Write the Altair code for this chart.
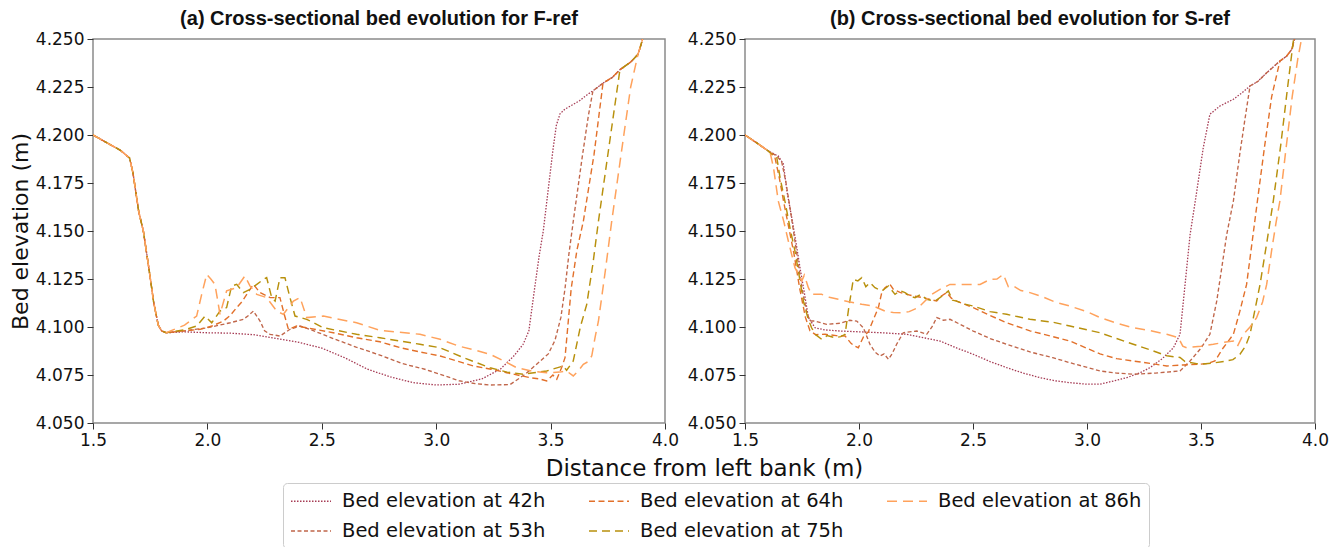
import altair as alt
import pandas as pd

SERIES = ["Bed elevation at 42h", "Bed elevation at 53h", "Bed elevation at 64h",
          "Bed elevation at 75h", "Bed elevation at 86h"]
COLORS = ["#a63c55", "#c0664a", "#e2702a", "#b8900c", "#ffa25c"]
DASHES = [[1.5, 1.5], [4, 2.5], [6, 3.5], [8, 5], [10, 6]]
WIDTHS = [1.3, 1.5, 2.1, 2.7, 3.5]

X_TICKS = [1.5, 2.0, 2.5, 3.0, 3.5, 4.0]
Y_TICKS = [4.050, 4.075, 4.100, 4.125, 4.150, 4.175, 4.200, 4.225, 4.250]

# ---------------- Panel (a): F-ref ----------------
bank_a_x = [1.50, 1.56, 1.62, 1.66, 1.675, 1.70, 1.72, 1.745, 1.765, 1.785, 1.80, 1.82]
bank_a_y = [4.200, 4.196, 4.192, 4.188, 4.180, 4.160, 4.150, 4.130, 4.113, 4.101, 4.098, 4.097]
top_a_x = [3.729, 3.77, 3.803, 3.85, 3.882, 3.90, 3.915]
top_a_y = [4.227, 4.230, 4.234, 4.238, 4.242, 4.249, 4.258]

a42_x = [1.9, 2.0, 2.1, 2.2, 2.3, 2.4, 2.5, 2.6, 2.7, 2.8, 2.9, 3.0, 3.1, 3.2, 3.28, 3.34, 3.38,
         3.405, 3.43, 3.45, 3.468, 3.49, 3.51, 3.525, 3.541, 3.563, 3.60, 3.628, 3.66, 3.685]
a42_y = [4.0975, 4.097, 4.0968, 4.096, 4.094, 4.092, 4.089, 4.084, 4.078, 4.074, 4.071, 4.0698,
         4.0702, 4.073, 4.078, 4.085, 4.091, 4.098, 4.120, 4.137, 4.150, 4.172, 4.192, 4.205,
         4.211, 4.2135, 4.216, 4.218, 4.221, 4.223]
a53_x = [1.9, 2.0, 2.1, 2.157, 2.18, 2.201, 2.23, 2.25, 2.274, 2.317, 2.361, 2.405, 2.448, 2.55,
         2.65, 2.754, 2.85, 2.95, 3.017, 3.1, 3.17, 3.235, 3.323, 3.39, 3.439, 3.49, 3.519, 3.545,
         3.563, 3.58, 3.599, 3.64, 3.665, 3.685]
a53_y = [4.098, 4.0996, 4.1022, 4.104, 4.106, 4.1083, 4.1031, 4.098, 4.0962, 4.0953, 4.0988,
         4.1005, 4.0988, 4.094, 4.0895, 4.0854, 4.081, 4.078, 4.0754, 4.072, 4.0705, 4.0698,
         4.070, 4.0755, 4.0806, 4.086, 4.093, 4.105, 4.120, 4.138, 4.155, 4.190, 4.210, 4.223]
a64_x = [1.9, 1.968, 2.02, 2.07, 2.1, 2.128, 2.15, 2.172, 2.201, 2.23, 2.274, 2.317, 2.335, 2.354,
         2.39, 2.434, 2.55, 2.652, 2.754, 2.85, 2.93, 3.017, 3.1, 3.162, 3.24, 3.308, 3.41, 3.45,
         3.483, 3.51, 3.527, 3.548, 3.563, 3.575, 3.59, 3.615, 3.643, 3.69]
a64_y = [4.098, 4.0988, 4.1005, 4.1031, 4.106, 4.1101, 4.113, 4.117, 4.1222, 4.1179, 4.1153,
         4.1153, 4.107, 4.0988, 4.1005, 4.0996, 4.097, 4.0944, 4.0923, 4.089, 4.087, 4.0849,
         4.082, 4.0797, 4.078, 4.0762, 4.0736, 4.073, 4.0719, 4.075, 4.0728, 4.0788, 4.084,
         4.100, 4.120, 4.140, 4.155, 4.190]
a75_x = [1.9, 1.953, 1.99, 2.019, 2.055, 2.084, 2.106, 2.128, 2.157, 2.186, 2.216, 2.245, 2.259,
         2.281, 2.296, 2.317, 2.339, 2.361, 2.383, 2.434, 2.507, 2.652, 2.754, 2.929, 3.017, 3.12,
         3.235, 3.31, 3.381, 3.483, 3.555, 3.57, 3.599, 3.63, 3.658, 3.685, 3.709, 3.76]
a75_y = [4.0985, 4.1005, 4.1057, 4.1022, 4.1083, 4.1101, 4.1214, 4.1222, 4.1179, 4.1196, 4.1222,
         4.1248, 4.1257, 4.1153, 4.1135, 4.1257, 4.1257, 4.1153, 4.1057, 4.104, 4.0996, 4.0962,
         4.0944, 4.091, 4.0892, 4.084, 4.0788, 4.0765, 4.0754, 4.0771, 4.0797, 4.0775, 4.0823,
         4.100, 4.1118, 4.133, 4.155, 4.198]
a86_x = [1.9, 1.953, 1.975, 1.997, 2.015, 2.033, 2.055, 2.084, 2.128, 2.164, 2.186, 2.216, 2.259,
         2.303, 2.332, 2.376, 2.405, 2.434, 2.507, 2.652, 2.754, 2.929, 3.017, 3.1, 3.17, 3.235,
         3.3, 3.352, 3.42, 3.483, 3.54, 3.57, 3.599, 3.62, 3.643, 3.665, 3.68, 3.695, 3.709, 3.74,
         3.767, 3.82, 3.85]
a86_y = [4.101, 4.1057, 4.117, 4.1274, 4.125, 4.1222, 4.1066, 4.1188, 4.1205, 4.1266, 4.1214,
         4.117, 4.1153, 4.1083, 4.1066, 4.1135, 4.1153, 4.1049, 4.1057, 4.1022, 4.0983, 4.0962,
         4.0936, 4.090, 4.088, 4.0858, 4.082, 4.0788, 4.077, 4.0762, 4.0765, 4.0771, 4.0745,
         4.077, 4.0806, 4.082, 4.085, 4.095, 4.103, 4.130, 4.155, 4.200, 4.225]

# ---------------- Panel (b): S-ref ----------------
bank_b_x = [1.50, 1.55, 1.602]
bank_b_y = [4.200, 4.196, 4.1917]
top_b_x = [3.715, 3.75, 3.788, 3.846, 3.875, 3.898, 3.912, 3.92]
top_b_y = [4.2255, 4.228, 4.2324, 4.2385, 4.241, 4.2446, 4.2507, 4.258]

b42_x = [1.646, 1.668, 1.685, 1.705, 1.725, 1.741, 1.76, 1.778, 1.807, 1.85, 1.917, 2.0, 2.1,
         2.209, 2.3, 2.355, 2.43, 2.501, 2.575, 2.648, 2.72, 2.794, 2.86, 2.925, 3.0, 3.057, 3.12,
         3.174, 3.23, 3.276, 3.33, 3.379, 3.408, 3.43, 3.452, 3.478, 3.51, 3.539, 3.583, 3.642,
         3.68]
b42_y = [4.189, 4.185, 4.170, 4.157, 4.143, 4.131, 4.118, 4.1049, 4.0996, 4.0985, 4.0979, 4.0975,
         4.097, 4.0962, 4.094, 4.0927, 4.089, 4.0858, 4.082, 4.0788, 4.076, 4.0736, 4.072, 4.071,
         4.0702, 4.0702, 4.072, 4.0736, 4.076, 4.0788, 4.0835, 4.0892, 4.0962, 4.122, 4.148,
         4.168, 4.1934, 4.2108, 4.2151, 4.2186, 4.222]
b53_x = [1.64, 1.661, 1.68, 1.70, 1.725, 1.75, 1.77, 1.785, 1.807, 1.858, 1.92, 1.96, 1.99, 2.019,
         2.048, 2.07, 2.092, 2.11, 2.129, 2.145, 2.165, 2.194, 2.253, 2.297, 2.32, 2.341, 2.37,
         2.399, 2.45, 2.501, 2.575, 2.648, 2.75, 2.85, 2.925, 3.057, 3.13, 3.203, 3.3, 3.408,
         3.452, 3.5, 3.539, 3.569, 3.59, 3.613, 3.642, 3.67, 3.695]
b53_y = [4.189, 4.186, 4.175, 4.160, 4.140, 4.120, 4.108, 4.1031, 4.1031, 4.1014, 4.102, 4.1035,
         4.1031, 4.0996, 4.091, 4.087, 4.0849, 4.086, 4.0832, 4.086, 4.091, 4.097, 4.0979,
         4.0962, 4.100, 4.1049, 4.1035, 4.104, 4.101, 4.0979, 4.094, 4.091, 4.087, 4.084,
         4.0814, 4.0771, 4.076, 4.0754, 4.076, 4.0771, 4.0823, 4.089, 4.0962, 4.1135, 4.130,
         4.1483, 4.1656, 4.190, 4.210]
b64_x = [1.63, 1.65, 1.67, 1.695, 1.715, 1.74, 1.765, 1.785, 1.81, 1.851, 1.9, 1.939, 1.965,
         1.982, 1.997, 2.02, 2.041, 2.06, 2.085, 2.1, 2.114, 2.136, 2.151, 2.18, 2.209, 2.245,
         2.282, 2.341, 2.36, 2.385, 2.405, 2.428, 2.501, 2.575, 2.648, 2.75, 2.85, 2.925, 3.057,
         3.13, 3.203, 3.28, 3.35, 3.42, 3.496, 3.53, 3.561, 3.598, 3.642, 3.67, 3.70, 3.725,
         3.75, 3.78, 3.81]
b64_y = [4.189, 4.178, 4.165, 4.150, 4.138, 4.120, 4.105, 4.098, 4.096, 4.0962, 4.0955, 4.0953,
         4.0915, 4.090, 4.0892, 4.095, 4.0975, 4.103, 4.1101, 4.118, 4.1205, 4.1222, 4.1196,
         4.118, 4.117, 4.116, 4.1153, 4.1135, 4.116, 4.1179, 4.115, 4.1135, 4.1101, 4.106,
         4.1022, 4.098, 4.095, 4.0927, 4.086, 4.0835, 4.0823, 4.081, 4.0797, 4.0802, 4.0806,
         4.081, 4.0823, 4.0892, 4.0962, 4.108, 4.1222, 4.145, 4.168, 4.195, 4.220]
b75_x = [1.625, 1.639, 1.655, 1.675, 1.70, 1.719, 1.74, 1.756, 1.775, 1.792, 1.81, 1.836, 1.86,
         1.895, 1.92, 1.939, 1.955, 1.975, 1.995, 2.012, 2.03, 2.048, 2.07, 2.1, 2.129, 2.158,
         2.18, 2.202, 2.225, 2.246, 2.27, 2.297, 2.333, 2.355, 2.375, 2.392, 2.41, 2.428, 2.46,
         2.501, 2.575, 2.648, 2.75, 2.85, 2.925, 3.057, 3.13, 3.203, 3.28, 3.35, 3.408, 3.43,
         3.496, 3.55, 3.613, 3.64, 3.671, 3.695, 3.715, 3.735, 3.759, 3.79, 3.817, 3.85, 3.88,
         3.905, 3.915]
b75_y = [4.189, 4.1886, 4.177, 4.1656, 4.150, 4.1396, 4.125, 4.1135, 4.105, 4.0996, 4.096,
         4.0936, 4.0955, 4.0944, 4.095, 4.0962, 4.110, 4.1248, 4.124, 4.1257, 4.121, 4.1231,
         4.1205, 4.1188, 4.1214, 4.117, 4.119, 4.1179, 4.116, 4.1153, 4.117, 4.1144, 4.1135,
         4.1153, 4.117, 4.1188, 4.114, 4.1135, 4.112, 4.1109, 4.108, 4.1066, 4.104, 4.1025,
         4.1005, 4.097, 4.094, 4.091, 4.088, 4.085, 4.0841, 4.082, 4.0806, 4.0812, 4.0823, 4.083,
         4.0858, 4.090, 4.0962, 4.108, 4.1222, 4.145, 4.1656, 4.195, 4.225, 4.249, 4.258]
b86_x = [1.61, 1.625, 1.646, 1.67, 1.69, 1.719, 1.749, 1.76, 1.778, 1.792, 1.836, 1.87, 1.909,
         1.96, 2.012, 2.063, 2.114, 2.15, 2.187, 2.22, 2.26, 2.319, 2.355, 2.399, 2.46, 2.531,
         2.575, 2.605, 2.633, 2.655, 2.677, 2.71, 2.75, 2.8, 2.86, 2.925, 3.0, 3.057, 3.13,
         3.203, 3.28, 3.35, 3.401, 3.42, 3.437, 3.5, 3.554, 3.6, 3.642, 3.66, 3.686, 3.715,
         3.744, 3.77, 3.788, 3.81, 3.83, 3.846, 3.87, 3.90, 3.925, 3.942, 3.95]
b86_y = [4.191, 4.183, 4.1656, 4.155, 4.1448, 4.1309, 4.124, 4.127, 4.1205, 4.117, 4.117,
         4.1155, 4.1144, 4.113, 4.1118, 4.1109, 4.1083, 4.1075, 4.1074, 4.108, 4.1101, 4.117,
         4.1196, 4.1222, 4.1222, 4.1222, 4.1248, 4.125, 4.1274, 4.121, 4.1214, 4.119, 4.1179,
         4.116, 4.113, 4.1109, 4.108, 4.1049, 4.102, 4.0996, 4.098, 4.0962, 4.0944, 4.090,
         4.0892, 4.090, 4.091, 4.092, 4.0927, 4.090, 4.0962, 4.100, 4.1049, 4.113, 4.1222, 4.140,
         4.155, 4.1656, 4.190, 4.220, 4.240, 4.2507, 4.258]

rows = []


def add(panel, name, xs, ys):
    for i, (xv, yv) in enumerate(zip(xs, ys)):
        rows.append({"panel": panel, "series": name, "i": i, "x": xv, "y": yv})


add("a", SERIES[0], bank_a_x + a42_x + top_a_x, bank_a_y + a42_y + top_a_y)
add("a", SERIES[1], bank_a_x + a53_x + top_a_x, bank_a_y + a53_y + top_a_y)
add("a", SERIES[2], bank_a_x + a64_x + top_a_x, bank_a_y + a64_y + top_a_y)
add("a", SERIES[3], bank_a_x + a75_x + top_a_x[2:], bank_a_y + a75_y + top_a_y[2:])
add("a", SERIES[4], bank_a_x + a86_x + top_a_x[4:], bank_a_y + a86_y + top_a_y[4:])

add("b", SERIES[0], bank_b_x + b42_x + top_b_x, bank_b_y + b42_y + top_b_y)
add("b", SERIES[1], bank_b_x + b53_x + top_b_x, bank_b_y + b53_y + top_b_y)
add("b", SERIES[2], bank_b_x + b64_x + top_b_x[3:], bank_b_y + b64_y + top_b_y[3:])
add("b", SERIES[3], bank_b_x + b75_x, bank_b_y + b75_y)
add("b", SERIES[4], bank_b_x[:2] + b86_x, bank_b_y[:2] + b86_y)

df = pd.DataFrame(rows)

color_scale = alt.Scale(domain=SERIES, range=COLORS)
dash_scale = alt.Scale(domain=SERIES, range=DASHES)
width_scale = alt.Scale(domain=SERIES, range=WIDTHS)

legend = alt.Legend(
    title=None, orient="none", legendX=190, legendY=444, columns=3, direction="vertical",
    symbolType="M-1,0H3", symbolSize=400, labelFontSize=19.5, labelFont="DejaVu Sans",
    labelColor="#111", columnPadding=40, rowPadding=9, padding=7,
    strokeColor="#cccccc", fillColor="white", cornerRadius=4, labelOffset=30,
    labelLimit=400,
)


def panel(pid, title, first, w):
    xaxis = alt.Axis(values=X_TICKS, format=".1f", title=None)
    if first:
        xaxis = alt.Axis(values=X_TICKS, format=".1f", title="Distance from left bank (m)",
                         titleX=611, titleY=45, titleAlign="center",
                         titleBaseline="middle", titleFontSize=23)
    return alt.Chart(df[df.panel == pid]).mark_line(clip=True).encode(
        x=alt.X("x:Q", scale=alt.Scale(domain=[1.5, 4.0], nice=False, zero=False),
                axis=xaxis),
        y=alt.Y("y:Q", scale=alt.Scale(domain=[4.05, 4.25], nice=False, zero=False),
                axis=alt.Axis(values=Y_TICKS, format=".3f",
                              title="Bed elevation (m)" if first else None)),
        color=alt.Color("series:N", scale=color_scale, legend=legend),
        strokeDash=alt.StrokeDash("series:N", scale=dash_scale, legend=legend),
        strokeWidth=alt.StrokeWidth("series:N", scale=width_scale, legend=legend),
        order="i:Q",
    ).properties(
        width=w, height=384,
        title=alt.TitleParams(title, font="Liberation Sans", fontWeight="bold",
                              fontSize=20, anchor="middle", offset=1, color="#111"),
    )


chart = alt.hconcat(
    panel("a", "(a) Cross-sectional bed evolution for F-ref", True, 572),
    panel("b", "(b) Cross-sectional bed evolution for S-ref", False, 570),
    spacing=80, bounds="flush",
).properties(
    padding=0,
).configure_view(
    stroke="#8a8a8a", strokeWidth=1.5
).configure_axis(
    grid=False, domain=False, labelFont="DejaVu Sans", labelFontSize=17, labelColor="#111",
    tickColor="#333", tickSize=6, labelPadding=3, labelFlush=False, titleFont="DejaVu Sans",
    titleFontSize=22, titleFontWeight="normal", titleColor="#111", titlePadding=3,
)

chart.save("out.html", embed_options={"renderer": "svg", "actions": False})
